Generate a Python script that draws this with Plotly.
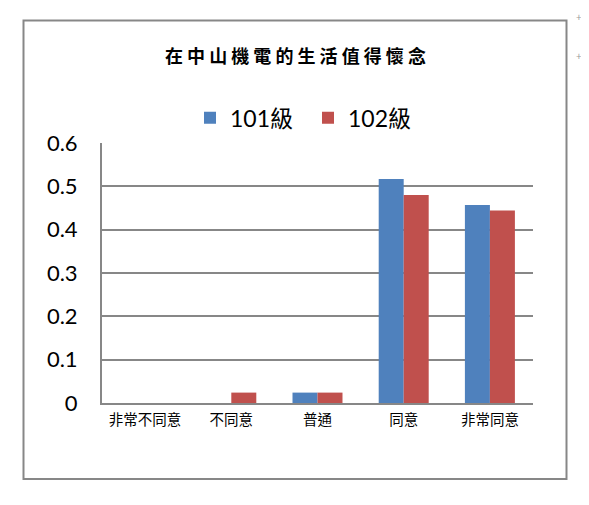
import plotly.graph_objects as go

categories = ["非常不同意", "不同意", "普通", "同意", "非常同意"]
series_names = ["101級", "102級"]
values_101 = [0, 0, 0.024, 0.517, 0.457]
values_102 = [0, 0.024, 0.024, 0.48, 0.444]
colors = ["#4F81BD", "#C0504D"]
title_text = "在中山機電的生活值得懷念"

fig = go.Figure()
for name, vals, col in zip(series_names, [values_101, values_102], colors):
    fig.add_trace(go.Bar(x=categories, y=vals, name=name, marker=dict(color=col, line=dict(width=0))))

grid_col = "#878787"
L, R, T, B = 94, 525, 135, 395
PW, PH = R - L, B - T

def px(x):
    return (x - L) / PW

def py(y):
    return (B - y) / PH

fig.update_layout(
    width=589, height=505,
    margin=dict(l=L, r=589 - R, t=T, b=505 - B),
    paper_bgcolor="white", plot_bgcolor="white",
    barmode="group", bargap=0.42, bargroupgap=0,
    showlegend=True,
    legend=dict(orientation="h", x=px(182), xanchor="left", y=py(109.7), yanchor="middle",
                font=dict(family="Lato, Noto Sans CJK TC", size=23, color="#000000"),
                entrywidth=73, entrywidthmode="pixels", itemwidth=30),
    title=dict(text=" ".join(title_text), x=287.5 / 589, xanchor="center", y=1 - 48.5 / 505, yanchor="middle",
               font=dict(family="Noto Sans CJK TC", size=18, color="#000000", weight="bold")),
    xaxis=dict(showline=True, linecolor=grid_col, linewidth=2, ticks="", showgrid=False,
               tickfont=dict(family="Noto Sans CJK TC", size=14.5, color="#000000"), ticklabelstandoff=3),
    yaxis=dict(range=[0, 0.6], dtick=0.1, showline=True, linecolor=grid_col, linewidth=2,
               showgrid=True, gridcolor=grid_col, gridwidth=1.5, zeroline=False, ticks="",
               tickfont=dict(family="Lato, Open Sans", size=22, color="#000000"), ticklabelstandoff=18),
    shapes=[dict(type="rect", xref="paper", yref="paper",
                 x0=px(15.5), x1=px(558.5), y0=py(471), y1=py(12.5),
                 line=dict(color=grid_col, width=2), fillcolor="rgba(0,0,0,0)", layer="below")],
    annotations=[
        dict(text="+", xref="paper", yref="paper", x=px(576), y=py(9), yanchor="middle",
             showarrow=False, font=dict(size=10, color="#999999")),
        dict(text="+", xref="paper", yref="paper", x=px(576), y=py(48), yanchor="middle",
             showarrow=False, font=dict(size=10, color="#999999")),
    ],
)

fig.write_html("out.html")
